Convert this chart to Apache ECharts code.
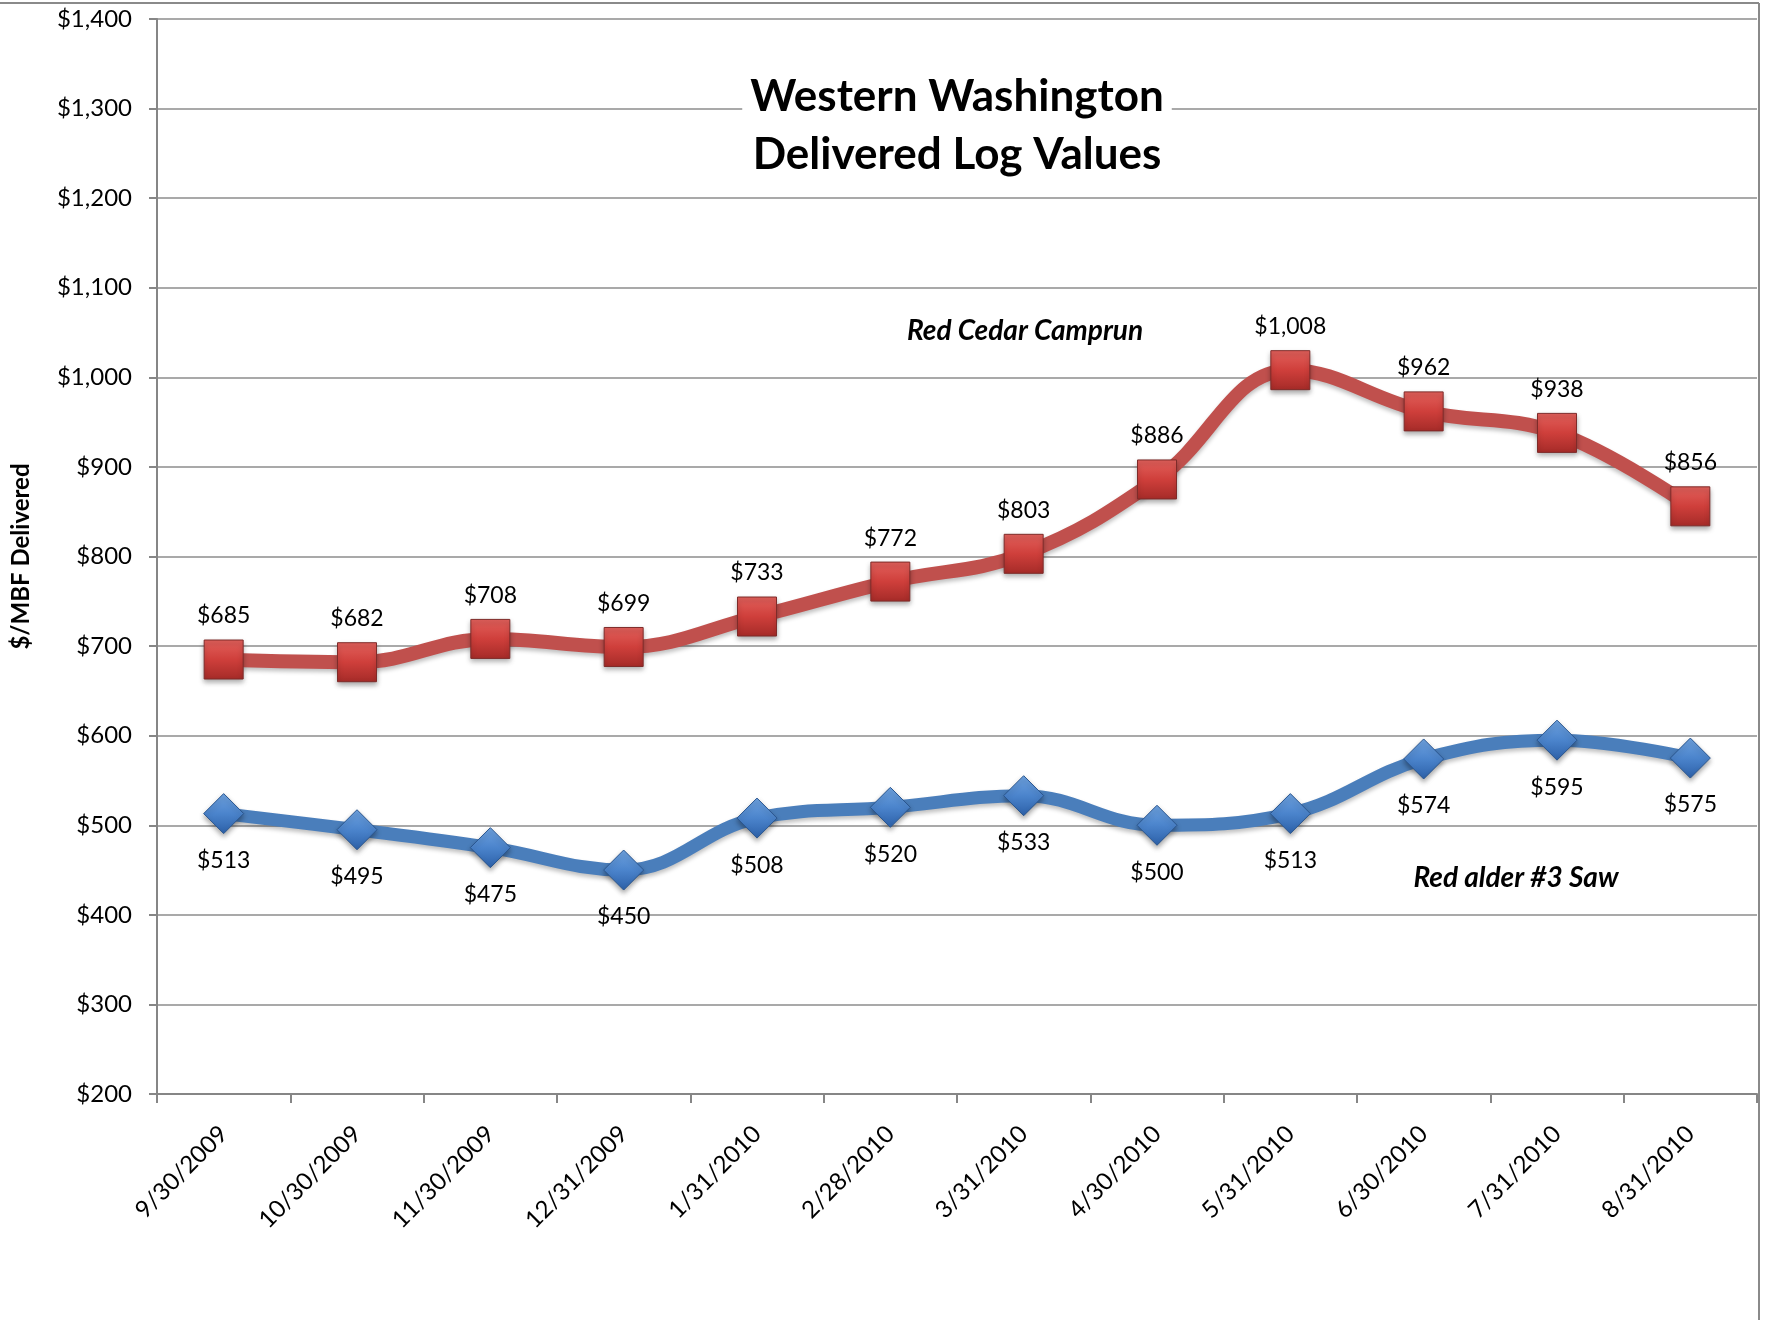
<!DOCTYPE html>
<html>
<head>
<meta charset="utf-8">
<title>Western Washington Delivered Log Values</title>
<script src="https://cdn.jsdelivr.net/npm/echarts@6/dist/echarts.min.js"></script>
<style>
  html, body { margin: 0; padding: 0; background: #fff; }
  #chart { width: 1769px; height: 1320px; }
</style>
</head>
<body>
<div id="chart"></div>
<script>
// 数据
const dates = ['9/30/2009', '10/30/2009', '11/30/2009', '12/31/2009', '1/31/2010', '2/28/2010',
  '3/31/2010', '4/30/2010', '5/31/2010', '6/30/2010', '7/31/2010', '8/31/2010']
const redCedar = [685, 682, 708, 699, 733, 772, 803, 886, 1008, 962, 938, 856]
const redAlder = [513, 495, 475, 450, 508, 520, 533, 500, 513, 574, 595, 575]

const FONT = 'Lato, "Open Sans", sans-serif'

function money(v) {
  return '$' + String(v).replace(/\B(?=(\d{3})+(?!\d))/g, ',')
}

const chart = echarts.init(document.getElementById('chart'))

const option = {
  backgroundColor: '#fff',
  animation: false,
  grid: { left: 157, right: 12, top: 19, bottom: 226, outerBoundsMode: 'none', containLabel: false },
  xAxis: {
    type: 'category',
    data: dates,
    boundaryGap: true,
    axisLine: { lineStyle: { color: '#868686', width: 2 } },
    axisTick: { show: true, length: 9, lineStyle: { color: '#868686', width: 2 } },
    axisLabel: { rotate: 45, margin: 36, fontSize: 24, color: '#000', fontFamily: FONT }
  },
  yAxis: {
    type: 'value',
    min: 200,
    max: 1400,
    interval: 100,
    name: '$/MBF Delivered',
    nameLocation: 'middle',
    nameGap: 124,
    nameTextStyle: { fontSize: 24, fontWeight: 'bold', color: '#000', fontFamily: FONT },
    axisLine: { show: true, lineStyle: { color: '#868686', width: 2 } },
    axisTick: { show: true, length: 8, lineStyle: { color: '#868686', width: 2 } },
    axisLabel: { margin: 25, fontSize: 24, color: '#000', fontFamily: FONT, formatter: money },
    splitLine: { lineStyle: { color: '#8c8c8c', width: 1.5 } }
  },
  series: [
    {
      name: 'Red alder #3 Saw',
      type: 'line',
      data: redAlder,
      smooth: 0.4,
      symbol: 'diamond',
      symbolSize: [40, 40],
      lineStyle: { color: '#4A7EBB', width: 13, shadowColor: 'rgba(0,0,0,0.25)', shadowBlur: 4, shadowOffsetY: 3 },
      itemStyle: {
        color: new echarts.graphic.LinearGradient(0, 0, 0, 1, [
          { offset: 0, color: '#6FA3E0' },
          { offset: 0.5, color: '#4B84CC' },
          { offset: 1, color: '#2C60A8' }
        ]),
        borderColor: '#2A568F',
        borderWidth: 1,
        shadowColor: 'rgba(0,0,0,0.35)',
        shadowBlur: 5,
        shadowOffsetY: 3
      },
      label: {
        show: true,
        position: 'bottom',
        distance: 15,
        fontSize: 23,
        color: '#000',
        fontFamily: FONT,
        formatter: p => money(p.value)
      }
    },
    {
      name: 'Red Cedar Camprun',
      type: 'line',
      data: redCedar,
      smooth: 0.4,
      symbol: 'rect',
      symbolSize: [39, 39],
      lineStyle: { color: '#C0504D', width: 14, shadowColor: 'rgba(0,0,0,0.25)', shadowBlur: 4, shadowOffsetY: 3 },
      itemStyle: {
        color: new echarts.graphic.LinearGradient(0, 0, 0, 1, [
          { offset: 0, color: '#E2615C' },
          { offset: 0.5, color: '#CF3F3B' },
          { offset: 1, color: '#A52B28' }
        ]),
        borderColor: '#7E2B29',
        borderWidth: 1,
        shadowColor: 'rgba(0,0,0,0.35)',
        shadowBlur: 5,
        shadowOffsetY: 3
      },
      label: {
        show: true,
        position: 'top',
        distance: 12,
        fontSize: 23,
        color: '#000',
        fontFamily: FONT,
        formatter: p => money(p.value)
      }
    }
  ],
  graphic: [
    // 外框
    { type: 'line', shape: { x1: 0, y1: 3, x2: 1759, y2: 3 }, style: { stroke: '#8a8a8a', lineWidth: 2 }, z: 10 },
    { type: 'line', shape: { x1: 1759, y1: 3, x2: 1759, y2: 1320 }, style: { stroke: '#8a8a8a', lineWidth: 2 }, z: 10 },
    // 标题
    {
      type: 'text',
      x: 957,
      y: 126,
      z: 20,
      style: {
        text: 'Western Washington\nDelivered Log Values',
        textAlign: 'center',
        textVerticalAlign: 'middle',
        font: 'bold 44px ' + FONT,
        lineHeight: 58,
        fill: '#000',
        backgroundColor: '#fff',
        padding: [4, 8]
      }
    },
    {
      type: 'text',
      x: 1025,
      y: 331,
      z: 20,
      style: {
        text: 'Red Cedar Camprun',
        textAlign: 'center',
        textVerticalAlign: 'middle',
        font: 'italic bold 28px ' + FONT,
        fill: '#000'
      }
    },
    {
      type: 'text',
      x: 1516,
      y: 878,
      z: 20,
      style: {
        text: 'Red alder #3 Saw',
        textAlign: 'center',
        textVerticalAlign: 'middle',
        font: 'italic bold 28px ' + FONT,
        fill: '#000'
      }
    }
  ]
}

chart.setOption(option)
</script>
</body>
</html>
